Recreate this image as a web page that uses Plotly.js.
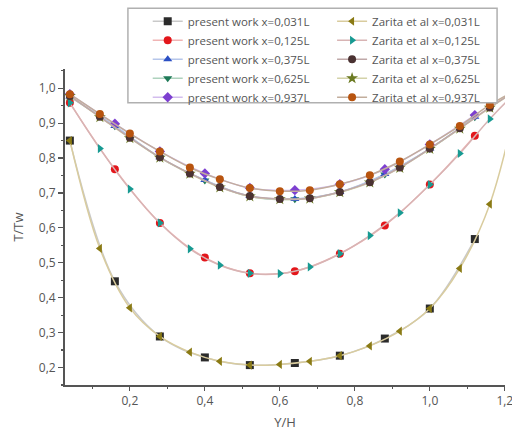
<!DOCTYPE html>
<html>
<head>
<meta charset="utf-8">
<script src="https://cdn.plot.ly/plotly-3.0.1.min.js"></script>
<style>html,body{margin:0;padding:0;background:#fff;}#chart{width:512px;height:436px;}</style>
</head>
<body>
<div id="chart"></div>
<script>
// ---- data ----
const xPresent = [0.04, 0.16, 0.28, 0.40, 0.52, 0.64, 0.76, 0.88, 1.00, 1.12];
const pw031 = [0.850, 0.447, 0.289, 0.229, 0.207, 0.213, 0.234, 0.283, 0.369, 0.568];
const pw125 = [0.958, 0.768, 0.614, 0.515, 0.470, 0.476, 0.526, 0.607, 0.724, 0.864];
const pw375 = [0.976, 0.892, 0.802, 0.737, 0.691, 0.683, 0.703, 0.754, 0.827, 0.918];
const pw625 = [0.976, 0.891, 0.801, 0.736, 0.690, 0.682, 0.702, 0.753, 0.826, 0.917];
const pw937 = [0.983, 0.898, 0.819, 0.756, 0.714, 0.708, 0.725, 0.768, 0.839, 0.923];

const xZarita = [0.04, 0.12, 0.20, 0.28, 0.36, 0.44, 0.52, 0.60, 0.68, 0.76, 0.84, 0.92, 1.00, 1.08, 1.16, 1.24];
const z031 = [0.850, 0.541, 0.371, 0.289, 0.244, 0.218, 0.207, 0.209, 0.218, 0.234, 0.262, 0.304, 0.369, 0.484, 0.668, 1.0];
const z125 = [0.958, 0.827, 0.711, 0.614, 0.540, 0.493, 0.470, 0.469, 0.488, 0.526, 0.578, 0.643, 0.724, 0.813, 0.912, 1.0];
const z375 = [0.978, 0.918, 0.858, 0.802, 0.756, 0.717, 0.691, 0.683, 0.685, 0.703, 0.731, 0.773, 0.827, 0.885, 0.945, 1.0];
const z625 = [0.978, 0.917, 0.857, 0.801, 0.755, 0.716, 0.690, 0.682, 0.684, 0.702, 0.730, 0.772, 0.826, 0.884, 0.944, 1.0];
const z937 = [0.983, 0.926, 0.870, 0.819, 0.773, 0.739, 0.714, 0.705, 0.708, 0.725, 0.751, 0.790, 0.839, 0.892, 0.952, 1.0];

const presentNames = ['present work x=0,031L','present work x=0,125L','present work x=0,375L','present work x=0,625L','present work x=0,937L'];
const zaritaNames  = ['Zarita et al x=0,031L','Zarita et al x=0,125L','Zarita et al x=0,375L','Zarita et al x=0,625L','Zarita et al x=0,937L'];
const xTickVals = [0.2, 0.4, 0.6, 0.8, 1.0, 1.2];
const yTickVals = [0.2, 0.3, 0.4, 0.5, 0.6, 0.7, 0.8, 0.9, 1.0];

// ---- styles ----
const pwStyle = [
  {sym:'square', col:'#2b2b2b', line:'#c9c9c9'},
  {sym:'circle', col:'#e3161b', line:'#f0b4b4'},
  {sym:'triangle-up', col:'#2b4fc4', line:'#b6c6ea'},
  {sym:'triangle-down', col:'#1f7a58', line:'#aed2bd'},
  {sym:'diamond', col:'#7d3fd0', line:'#d3bdee'}
];
const zStyle = [
  {sym:'triangle-left', col:'#8a7a14', line:'#d9cc9e'},
  {sym:'triangle-right', col:'#179a92', line:'#d8b4b4'},
  {sym:'circle', col:'#4a3232', line:'#bfa8a8'},
  {sym:'star', col:'#6b7a22', line:'#d3d2a8'},
  {sym:'circle', col:'#b8540f', line:'#c2ad9c'}
];
const pwY = [pw031, pw125, pw375, pw625, pw937];
const zY = [z031, z125, z375, z625, z937];

// draw order: the x=0,625L series lie underneath the others
const drawOrder = [3, 0, 1, 2, 4];
const traces = [];
drawOrder.forEach(i => traces.push({
  x: xPresent, y: pwY[i], name: presentNames[i], type: 'scatter', mode: 'lines+markers',
  line: {color: pwStyle[i].line, width: 1.5, shape: 'spline'},
  marker: {symbol: pwStyle[i].sym, color: pwStyle[i].col, size: 8},
  legend: 'legend', legendrank: i + 1
}));
drawOrder.forEach(i => traces.push({
  x: xZarita, y: zY[i], name: zaritaNames[i], type: 'scatter', mode: 'lines+markers',
  line: {color: zStyle[i].line, width: 1.5, shape: 'spline'},
  marker: {symbol: zStyle[i].sym, color: zStyle[i].col, size: zStyle[i].sym === 'star' ? 9 : 8},
  legend: 'legend2', legendrank: i + 1
}));

const fam = 'Open Sans, Liberation Sans, sans-serif';
const tickFont = {family: fam, size: 12, color: '#555'};
const legFont = {family: fam, size: 11.5, color: '#555'};

const layout = {
  width: 512, height: 436,
  margin: {l: 65, r: 7, t: 67, b: 51},
  paper_bgcolor: '#fff', plot_bgcolor: '#fff',
  separators: ', ',
  showlegend: true,
  xaxis: {
    range: [0.027, 1.2005], tickvals: xTickVals, tickformat: '.1f',
    ticklabeloverflow: 'allow',
    ticks: 'outside', ticklen: 4, tickwidth: 1.2, tickcolor: '#555',
    minor: {dtick: 0.1, ticks: 'outside', ticklen: 2, tickcolor: '#555'},
    showline: true, linecolor: '#555', linewidth: 2, showgrid: false, zeroline: false,
    tickfont: tickFont,
    title: {text: 'Y/H', font: {family: fam, size: 13, color: '#555'}, standoff: 9}
  },
  yaxis: {
    range: [0.15, 1.055], tickvals: yTickVals, tickformat: '.1f',
    ticks: 'outside', ticklen: 5, tickwidth: 1.2, tickcolor: '#555',
    minor: {dtick: 0.05, ticks: 'outside', ticklen: 2.5, tickcolor: '#555'},
    showline: true, linecolor: '#555', linewidth: 2, showgrid: false, zeroline: false,
    tickfont: tickFont,
    title: {text: 'T/Tw', font: {family: fam, size: 13, color: '#555'}, standoff: 12}
  },
  legend: {
    x: 0.188, y: 1.197, xanchor: 'left', yanchor: 'top',
    bgcolor: 'rgba(0,0,0,0)', borderwidth: 0, font: legFont, tracegroupgap: 0,
    itemwidth: 30
  },
  legend2: {
    x: 0.607, y: 1.197, xanchor: 'left', yanchor: 'top',
    bgcolor: 'rgba(0,0,0,0)', borderwidth: 0, font: legFont, tracegroupgap: 0,
    itemwidth: 30
  },
  shapes: [{
    type: 'rect', xref: 'paper', yref: 'paper', layer: 'above',
    x0: 0.143, x1: 0.982, y0: 0.893, y1: 1.192,
    line: {color: '#b0b0b0', width: 1.5}, fillcolor: '#ffffff'
  }]
};

Plotly.newPlot('chart', traces, layout, {displayModeBar: false, staticPlot: true});
</script>
</body>
</html>
